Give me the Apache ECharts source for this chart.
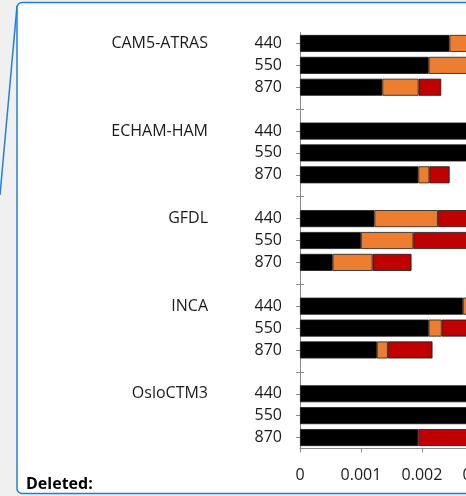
<!DOCTYPE html>
<html>
<head>
<meta charset="utf-8">
<script src="https://cdn.jsdelivr.net/npm/echarts@6/dist/echarts.min.js"></script>
<style>
  html, body { margin: 0; padding: 0; background: #f0f0f0; overflow: hidden; width: 466px; height: 496px; }
  #chart { position: absolute; left: 0; top: 0; width: 600px; height: 496px; }
</style>
</head>
<body>
<div id="chart"></div>
<script>
// Models and wavelengths (nm) shown on the category axis
const models = ['CAM5-ATRAS', 'ECHAM-HAM', 'GFDL', 'INCA', 'OsloCTM3'];
const wavelengths = ['440', '550', '870'];

// Stacked components per model, in order 440 / 550 / 870
const blackVals = [
  [0.00245, 0.00211, 0.00135],
  [0.0029, 0.0030, 0.00194],
  [0.00122, 0.00100, 0.000535],
  [0.00267, 0.00211, 0.00126],
  [0.0031, 0.0030, 0.00194]
];
const orangeVals = [
  [0.0004, 0.0007, 0.000594],
  [0.0002, 0.0002, 0.00018],
  [0.00104, 0.000857, 0.000655],
  [0.0002, 0.000213, 0.00018],
  [0.0001, 0.0001, null]
];
const redVals = [
  [0.0003, 0.0004, 0.000371],
  [0.0003, 0.0003, 0.000333],
  [0.0006, 0.0009, 0.000638],
  [0.0005, 0.0005, 0.000732],
  [0.0004, 0.0004, 0.0009]
];

// X axis ticks
const xTicks = [0, 0.001, 0.002, 0.003, 0.004];

// Build the row list: three wavelengths per model, a blank row between models
const rows = [], modelRow = [], sBlack = [], sOrange = [], sRed = [];
models.forEach((m, i) => {
  wavelengths.forEach((w, j) => {
    rows.push(w);
    modelRow.push(j === 0 ? m : '');
    sBlack.push(blackVals[i][j]);
    sOrange.push(orangeVals[i][j]);
    sRed.push(redVals[i][j]);
  });
  if (i < models.length - 1) {
    rows.push('');
    modelRow.push('');
    sBlack.push(null); sOrange.push(null); sRed.push(null);
  }
});

const FONT = '"Open Sans", "Noto Sans", sans-serif';
const TEXT = '#1a1a1a';
const AXIS = '#8c8c8c';

const chart = echarts.init(document.getElementById('chart'), null, { renderer: 'canvas' });

const barStyle = (color) => ({ color: color, borderColor: '#1a1a1a', borderWidth: 0.8 });

chart.setOption({
  backgroundColor: 'transparent',
  animation: false,
  graphic: [
    {
      type: 'rect', z: -10, silent: true,
      shape: { x: 17, y: 2.5, width: 700, height: 491, r: 5 },
      style: { fill: '#ffffff', stroke: '#1f7fdc', lineWidth: 1.5 }
    },
    {
      type: 'line', z: -10, silent: true,
      shape: { x1: 17, y1: 6, x2: 0, y2: 195 },
      style: { stroke: '#1f7fdc', lineWidth: 1.5 }
    },
    {
      type: 'text', left: 26, top: 476,
      style: { text: 'Deleted:', font: 'bold 16px ' + FONT, fill: '#000' }
    }
  ],
  grid: { left: 300, top: 32.5, right: 56, bottom: 47.5, containLabel: false },
  xAxis: {
    type: 'value',
    min: 0, max: 0.004, interval: 0.001,
    axisLine: { show: true, lineStyle: { color: AXIS, width: 1 } },
    axisTick: { show: true, length: 4, lineStyle: { color: AXIS } },
    splitLine: { show: false },
    axisLabel: {
      margin: 19,
      fontFamily: FONT, fontSize: 16, color: TEXT,
      formatter: (v) => {
        const t = xTicks.find(x => Math.abs(x - v) < 1e-9);
        return t === 0 ? '0' : (t !== undefined ? t.toFixed(3) : '');
      }
    }
  },
  yAxis: [
    {
      type: 'category', inverse: true, data: rows,
      axisLine: { show: true, lineStyle: { color: AXIS, width: 1 } },
      axisTick: { show: true, alignWithLabel: true, length: 4, lineStyle: { color: AXIS } },
      axisLabel: { margin: 18, fontFamily: FONT, fontSize: 16, color: TEXT, interval: 0 }
    },
    {
      type: 'category', inverse: true, data: rows, position: 'left',
      axisLine: { show: false },
      axisTick: { show: true, inside: true, alignWithLabel: true, length: 4, lineStyle: { color: AXIS } },
      axisLabel: { show: false }
    },
    {
      type: 'category', inverse: true, data: modelRow, position: 'left',
      axisLine: { show: false },
      axisTick: { show: false },
      axisLabel: { margin: 92, fontFamily: FONT, fontSize: 16, color: TEXT, interval: 0 }
    }
  ],
  series: [
    { name: 'black', type: 'bar', stack: 'total', yAxisIndex: 0, barWidth: 17, data: sBlack, itemStyle: barStyle('#000000') },
    { name: 'orange', type: 'bar', stack: 'total', yAxisIndex: 0, barWidth: 17, data: sOrange, itemStyle: barStyle('#ed7d31') },
    { name: 'red', type: 'bar', stack: 'total', yAxisIndex: 0, barWidth: 17, data: sRed, itemStyle: barStyle('#c00000') }
  ]
});
</script>
</body>
</html>
